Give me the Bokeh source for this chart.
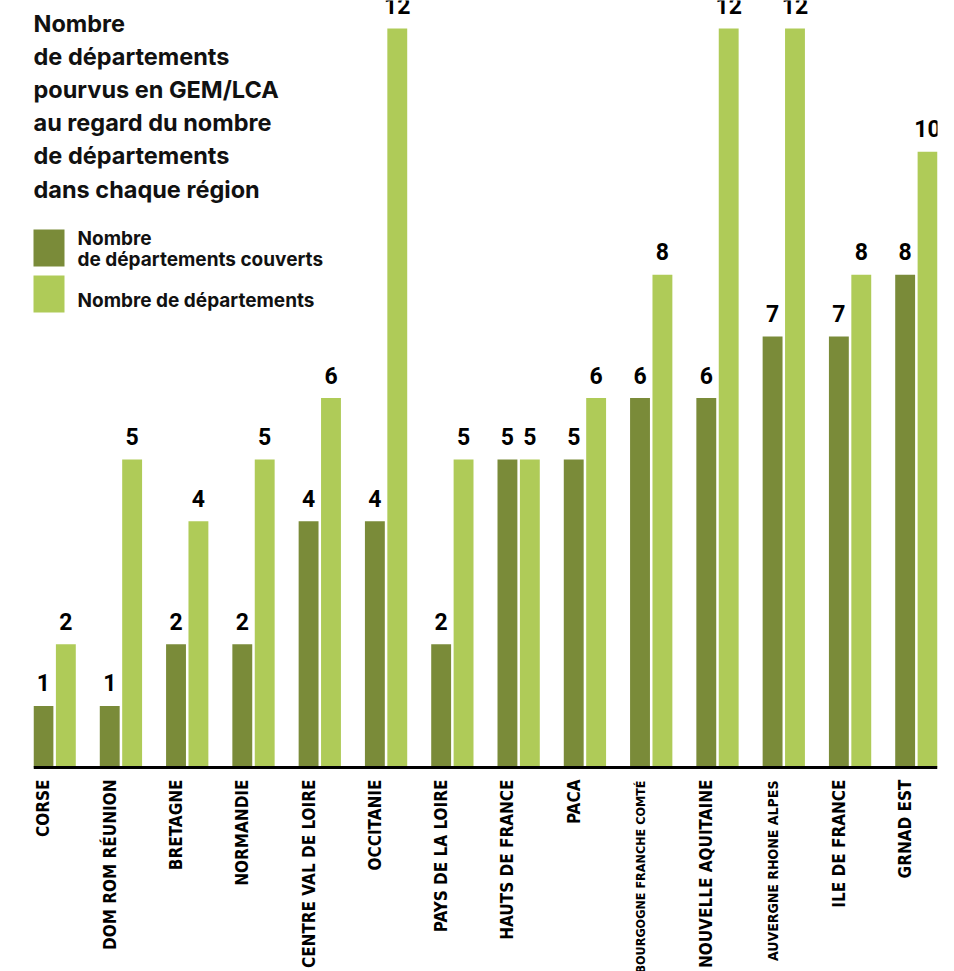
import math
from bokeh.plotting import figure
from bokeh.models import ColumnDataSource, FixedTicker, Range1d, Label
from bokeh.core.properties import value
from bokeh.embed import file_html
from bokeh.resources import INLINE

regions = ["CORSE", "DOM ROM RÉUNION", "BRETAGNE", "NORMANDIE", "CENTRE VAL DE LOIRE",
           "OCCITANIE", "PAYS DE LA LOIRE", "HAUTS DE FRANCE", "PACA",
           "BOURGOGNE FRANCHE COMTÉ", "NOUVELLE AQUITAINE", "AUVERGNE RHONE ALPES",
           "ILE DE FRANCE", "GRNAD EST"]
couverts = [1, 1, 2, 2, 4, 4, 2, 5, 5, 6, 6, 7, 7, 8]
total = [2, 5, 4, 5, 6, 12, 5, 5, 6, 8, 12, 12, 8, 10]

title_lines = ["Nombre", "de départements", "pourvus en GEM/LCA",
               "au regard du nombre", "de départements", "dans chaque région"]
legend_labels = ["Nombre\nde départements couverts", "Nombre de départements"]

# labels set in a narrower size (as in the original)
narrow_labels = {"BOURGOGNE FRANCHE COMTÉ": "12.5px", "AUVERGNE RHONE ALPES": "14px"}

DARK = "#7a8b39"
LIGHT = "#afcb58"
FONT = "Inter"
NUM_FONT = "Roboto"
LABEL_FONT = "'DejaVu Sans Condensed', 'Roboto'"

OFFSET = 0.338
BW = 0.30
X0, X1 = -0.15, 13.488
FW = 904
BASE = 767          # baseline pixel row
FH = 971            # frame reaches the bottom of the window
PPU = 739 / 12      # pixels per unit
Y0, Y1 = -(FH - BASE) / PPU, BASE / PPU
LEFT = 33
SHIFT = 7

def dx(sx):
    return X0 + (sx - LEFT) * (X1 - X0) / FW

def dy(sy):
    return (BASE - sy) / PPU

xs = list(range(len(regions)))
src = ColumnDataSource(dict(
    x=xs, x2=[i + OFFSET for i in xs],
    c=couverts, t=total,
    cl=[str(v) for v in couverts], tl=[str(v) for v in total]))

p = figure(frame_width=FW, frame_height=FH, x_range=Range1d(X0, X1), y_range=Range1d(Y0, Y1),
           output_backend="svg", toolbar_location=None, y_axis_location=None,
           min_border_left=LEFT, min_border_right=17, min_border_top=0, min_border_bottom=0)
p.outline_line_color = None
p.xgrid.visible = False
p.ygrid.visible = False

p.vbar(x="x", top="c", width=BW, bottom=0, source=src, fill_color=DARK, line_color=None)
p.vbar(x="x2", top="t", width=BW, bottom=0, source=src, fill_color=LIGHT, line_color=None)

for xcol, ycol, tcol in (("x", "c", "cl"), ("x2", "t", "tl")):
    p.text(x=xcol, y=ycol, text=tcol, source=src, text_align="center",
           text_baseline="alphabetic", y_offset=-23, text_font=value(NUM_FONT),
           text_font_style="bold", text_font_size="23px", text_color="black")

ax = p.xaxis[0]
ax.fixed_location = 0
ax.ticker = FixedTicker(ticks=xs)
ax.major_label_overrides = {i: ("" if r in narrow_labels else r) for i, r in enumerate(regions)}
ax.major_label_orientation = math.pi / 2
ax.major_tick_out = 0
ax.major_tick_in = 0
ax.minor_tick_out = 0
ax.minor_tick_in = 0
ax.axis_line_width = 3
ax.axis_line_color = "black"
ax.major_label_standoff = 12
ax.major_label_text_font = LABEL_FONT
ax.major_label_text_font_style = "bold"
ax.major_label_text_font_size = "17px"
ax.major_label_text_color = "black"

for i, r in enumerate(regions):
    if r in narrow_labels:
        nsrc = ColumnDataSource(dict(x=[i], y=[0], t=[r]))
        p.text(x="x", y="y", text="t", source=nsrc, angle=math.pi / 2, y_offset=13,
               text_align="right", text_baseline="middle", text_font=value(LABEL_FONT),
               text_font_style="bold", text_font_size=narrow_labels[r], text_color="black")

# title
baselines = [30, 63, 96, 129, 162, 196]
for line, sy in zip(title_lines, baselines):
    p.add_layout(Label(x=dx(33), y=dy(sy - SHIFT), text=line, text_font=FONT,
                       text_font_style="bold", text_font_size="23.5px",
                       text_baseline="alphabetic", text_color="#111111"))

# legend swatches
p.quad(left=[dx(29), dx(29)], right=[dx(64), dx(64)],
       top=[dy(229), dy(275)], bottom=[dy(266), dy(312)],
       fill_color=[DARK, LIGHT], line_color=None)
leg_lines = legend_labels[0].split("\n") + [legend_labels[1]]
for line, sy in zip(leg_lines, [245, 266, 307]):
    p.add_layout(Label(x=dx(77), y=dy(sy - SHIFT), text=line, text_font=FONT,
                       text_font_style="bold", text_font_size="19px",
                       text_baseline="alphabetic", text_color="#111111"))

open("out.html", "w").write(file_html(p, INLINE))
